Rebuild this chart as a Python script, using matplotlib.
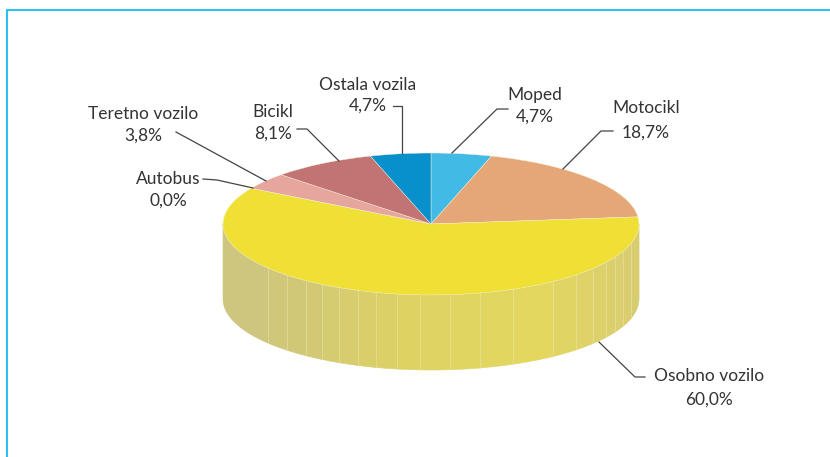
import numpy as np
import matplotlib
matplotlib.use('Agg')
import matplotlib.pyplot as plt

plt.rcParams['font.family'] = ['Lato', 'DejaVu Sans']

# data
labels = ['Moped', 'Motocikl', 'Osobno vozilo', 'Autobus', 'Teretno vozilo', 'Bicikl', 'Ostala vozila']
values = [4.7, 18.7, 60.0, 0.0, 3.8, 8.1, 4.7]
colors = ['#41BBE6', '#E6A778', '#F0E035', '#D9B0A0', '#E6A69E', '#C27474', '#0790CC']

W, H = 830, 457
cx, cy = 431, 224
rx, ry = 208, 71
depth = 75

# facet seams of the side wall, pixel columns
seams = [268, 287, 306, 322, 339, 358, 376, 397, 420, 450, 480, 513, 553, 576, 593, 606, 615, 623, 631]

fig = plt.figure(figsize=(W / 100, H / 100), dpi=100, facecolor='white')

# pie axes: the unit circle is squashed into the top ellipse
ax = fig.add_axes([(cx - rx) / W, (H - cy - ry) / H, 2 * rx / W, 2 * ry / H])
wedges, _ = ax.pie(values, colors=colors, startangle=90, counterclock=False, radius=1,
                   wedgeprops={'edgecolor': '#F5F1D8', 'linewidth': 0.3})
ax.set_aspect('auto')
ax.set_xlim(-1, 1)
ax.set_ylim(-1, 1)
ax.axis('off')
for w in wedges:
    w.set_clip_on(False)
    w.set_zorder(5)

# side wall of the big slice, only the front half shows
i = labels.index('Osobno vozilo')
a0 = max(sum(values[:i]) * 3.6, 90)
a1 = min(sum(values[:i + 1]) * 3.6, 270)
d = depth / ry
seam_t = np.degrees(np.pi - np.arcsin((np.array(seams) - cx) / rx))[::-1]
edges = np.r_[a0, seam_t[(seam_t > a0) & (seam_t < a1)], a1]
stops = [0, 0.2, 0.45, 0.75, 1]
reds = [0xCD, 0xD2, 0xDE, 0xE3, 0xD8]
greens = [0xC5, 0xC8, 0xD3, 0xD7, 0xCC]
blues = [0x80, 0x76, 0x62, 0x5F, 0x72]
for t0, t1 in zip(edges[:-1], edges[1:]):
    t = np.radians(np.linspace(t0, t1, 16))
    x, y = np.sin(t), np.cos(t)
    pos = (x.mean() + 1) / 2
    c = np.array([np.interp(pos, stops, reds), np.interp(pos, stops, greens), np.interp(pos, stops, blues)]) / 255
    ax.fill(np.r_[x, x[::-1]], np.r_[y, y[::-1] - d], color=c, lw=0.4, clip_on=False, zorder=2)
    ax.plot([x[0], x[0]], [y[0], y[0] - d], color='#EEE9B0', lw=0.5, alpha=0.7, clip_on=False, zorder=3)

# overlay in pixel coordinates for frame, leaders and labels
ov = fig.add_axes([0, 0, 1, 1], facecolor='none')
ov.set_xlim(0, W)
ov.set_ylim(H, 0)
ov.axis('off')

ov.plot([7, 7, W], [H, 10, 10], color='#12BDF0', lw=1.3, solid_joinstyle='miter')

leaders = [
    [(452, 153), (497, 109), (508, 109)],
    [(563, 169), (601, 131), (613, 131)],
    [(599, 342), (635, 377), (645, 377)],
    [(253, 188), (217, 180), (203, 179)],
    [(266, 181), (176, 132)],
    [(339, 161), (307, 129), (297, 129)],
    [(402, 153), (402, 106), (393, 106)],
]
for pts in leaders:
    xs, ys = zip(*pts)
    ov.plot(xs, ys, color='#444444', lw=0.9)

label_pos = [(535, 95, 117), (646, 108, 133), (709, 376, 400), (168, 179, 201),
             (143, 114, 136), (273, 112, 134), (368, 85, 106)]
for name, v, (lx, y1, y2) in zip(labels, values, label_pos):
    ov.text(lx, y1, name, ha='center', va='center', fontsize=12.5, color='#333333')
    ov.text(lx, y2, f'{v:.1f}%'.replace('.', ','), ha='center', va='center', fontsize=12.5, color='#333333')

fig.savefig('out.png', dpi=100)
